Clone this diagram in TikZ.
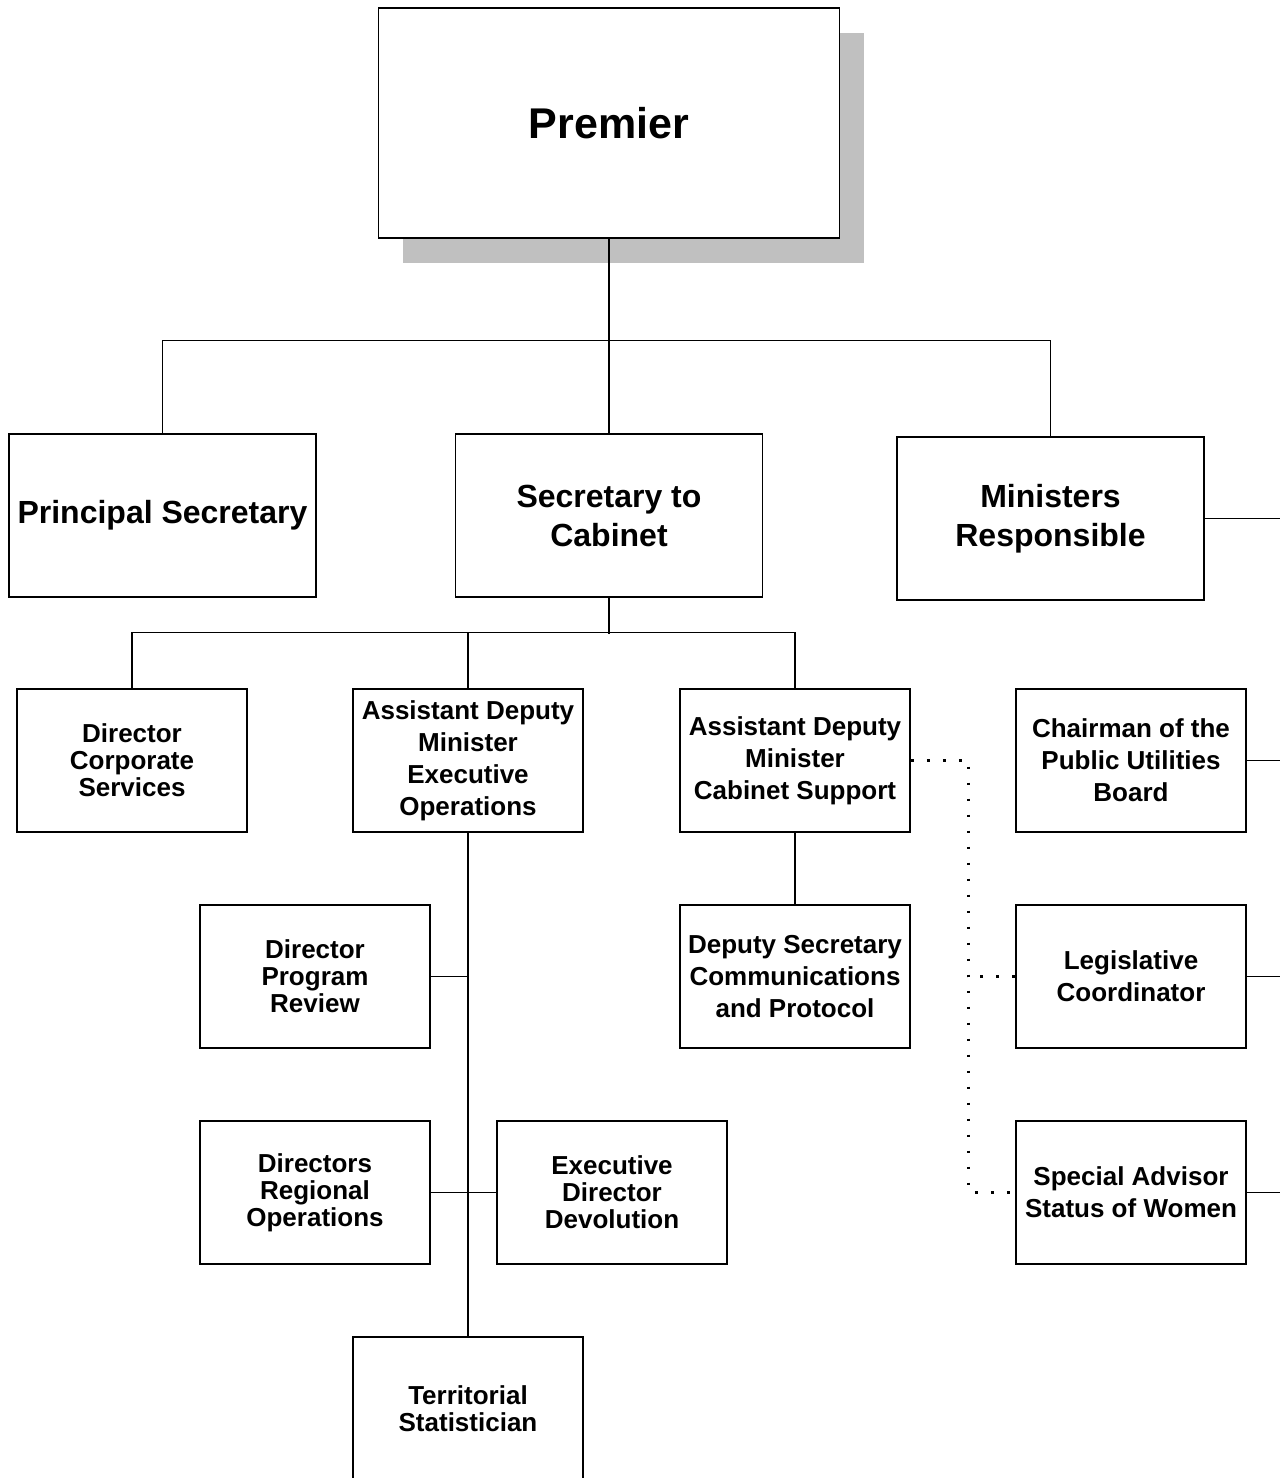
\documentclass[tikz,border=0pt]{standalone}
\usepackage{fontspec}
\setmainfont{Liberation Sans}
\usetikzlibrary{shadows}
\definecolor{shadowgray}{RGB}{192,192,192}

\begin{document}
\begin{tikzpicture}[x=1pt,y=-1pt]
    \tikzstyle{post}=[draw=black,line width=1.6pt,fill=white,align=center,inner sep=0pt,
        minimum width=230pt,minimum height=143pt,font=\bfseries\fontsize{26}{32}\selectfont]
    \tikzstyle{tight post}=[post,font=\bfseries\fontsize{26}{27}\selectfont]
    \tikzstyle{head post}=[post,minimum width=307pt,minimum height=163pt,
        font=\bfseries\fontsize{32}{39}\selectfont]
    \tikzstyle{top post}=[post,minimum width=461pt,minimum height=230pt,
        font=\bfseries\fontsize{43}{50}\selectfont,
        drop shadow={shadow xshift=24pt,shadow yshift=-25pt,fill=shadowgray,opacity=1}]
    \tikzstyle{link}=[draw=black,line width=1.2pt]
    \tikzstyle{dots}=[draw=black,line width=2.8pt,dash pattern=on 2.8pt off 13.2pt]

    \useasboundingbox (0,0) rectangle (1280,1478);
    \coordinate (edge) at (1280,0);

    % Top of the chart
    \node[top post] (P) at (609,123) {Premier};

    % Second row
    \node[head post] (PS) at (162.5,515.5) {Principal Secretary};
    \node[head post] (SC) at (609,515.5) {Secretary to\\Cabinet};
    \node[head post] (MR) at (1050.5,518.5) {Ministers\\Responsible};

    % Third row
    \node[tight post] (DCS) at (132,760.5) {Director\\Corporate\\Services};
    \node[post] (ADME) at (468,760.5) {Assistant Deputy\\Minister\\Executive\\Operations};
    \node[post] (ADMC) at (795,760.5) {Assistant Deputy\\Minister\\Cabinet Support};
    \node[post] (PUB) at (1131,760.5) {Chairman of the\\Public Utilities\\Board};

    % Lower boxes
    \node[tight post] (DPR) at (315,976.5) {Director\\Program\\Review};
    \node[post] (DSC) at (795,976.5) {Deputy Secretary\\Communications\\and Protocol};
    \node[post] (LC) at (1131,976.5) {Legislative\\Coordinator};
    \node[tight post] (DRO) at (315,1192.5) {Directors\\Regional\\Operations};
    \node[tight post] (EDD) at (612,1192.5) {Executive\\Director\\Devolution};
    \node[post] (SA) at (1131,1192.5) {Special Advisor\\Status of Women};
    \node[tight post] (TS) at (468,1408.5) {Territorial\\Statistician};

    % Reporting lines
    \path[link,line width=1.8pt] (P.south) -- (P.south |- 0,341);
    \path[link] (P.south) -- (SC.north);
    \path[link] (PS.north) -- ++(0,-93) -| (MR.north);
    \path[link] (SC.south) -- ++(0,36);
    \path[link] (DCS.north) -- ++(0,-56) -| (ADMC.north);
    \path[link] (ADME.north) -- ++(0,-56);
    \path[link] (ADME.south) -- (TS.north);
    \path[link] (DPR.east) -- (DPR.east -| ADME.south);
    \path[link] (DRO.east) -- (EDD.west);
    \path[link] (ADMC.south) -- (DSC.north);

    % Lines running off the right side
    \path[link] (MR.east) -- (MR.east -| edge);
    \path[link] (PUB.east) -- (PUB.east -| edge);
    \path[link] (LC.east) -- (LC.east -| edge);
    \path[link] (SA.east) -- (SA.east -| edge);

    % Dotted links
    \path[dots] (ADMC.east) -- ++(58,0) |- (SA.west);
    \path[dots] (LC.west) -- ++(-48,0);
\end{tikzpicture}
\end{document}
